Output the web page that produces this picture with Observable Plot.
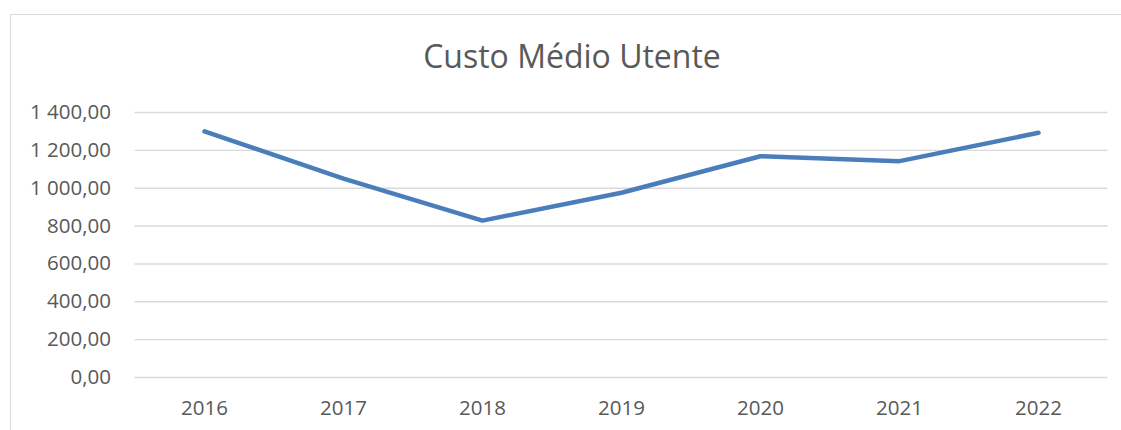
<!DOCTYPE html>
<html>
<head>
<meta charset="utf-8">
<script src="https://cdn.jsdelivr.net/npm/d3@7"></script>
<script src="https://cdn.jsdelivr.net/npm/@observablehq/plot@0.6"></script>
<style>
  html, body { margin: 0; padding: 0; background: #fff; }
  #wrap { position: relative; width: 1121px; height: 430px; overflow: hidden; font-family: "Open Sans", sans-serif; }
  #frame { position: absolute; left: 10px; top: 14px; right: -5px; bottom: -5px; border: 1.5px solid #d9d9d9; box-sizing: border-box; }
  #title { position: absolute; left: 0; width: 1144px; top: 34px; text-align: center; font-size: 32px; font-weight: 400; color: #595959; white-space: nowrap; }
  #chart { position: absolute; left: 0; top: 0; }
</style>
</head>
<body>
<div id="wrap">
  <div id="frame"></div>
  <div id="chart"></div>
  <div id="title">Custo Médio Utente</div>
</div>
<script>
const years = ["2016", "2017", "2018", "2019", "2020", "2021", "2022"];
const custoMedio = [1300, 1051, 829, 976, 1169, 1143, 1293];
const yTicks = [0, 200, 400, 600, 800, 1000, 1200, 1400];

const data = years.map((y, i) => ({ year: y, value: custoMedio[i] }));
const pt = d3.formatLocale({ decimal: ",", thousands: " ", grouping: [3], currency: ["", " €"] });
const fmt = pt.format(",.2f");

const chart = Plot.plot({
  width: 1121,
  height: 430,
  marginLeft: 134.5,
  marginRight: 13.5,
  marginTop: 112,
  marginBottom: 53,
  style: { fontFamily: "Open Sans, sans-serif", fontSize: "20px", color: "#595959", background: "transparent", overflow: "visible" },
  x: { type: "point", domain: years, padding: 0.5, label: null },
  y: { domain: [0, 1400], label: null },
  marks: [
    Plot.ruleY(yTicks, { stroke: "#d9d9d9", strokeWidth: 1.4 }),
    Plot.axisY(yTicks, { tickSize: 0, tickPadding: 24, tickFormat: fmt, fontSize: 20.5, fill: "#595959" }),
    Plot.axisX(years, { tickSize: 0, tickPadding: 23, fontSize: 20.5, fill: "#595959" }),
    Plot.line(data, { x: "year", y: "value", stroke: "#4a7ebb", strokeWidth: 4.5, strokeLinecap: "round", strokeLinejoin: "round" })
  ]
});
document.getElementById("chart").appendChild(chart);
</script>
</body>
</html>
